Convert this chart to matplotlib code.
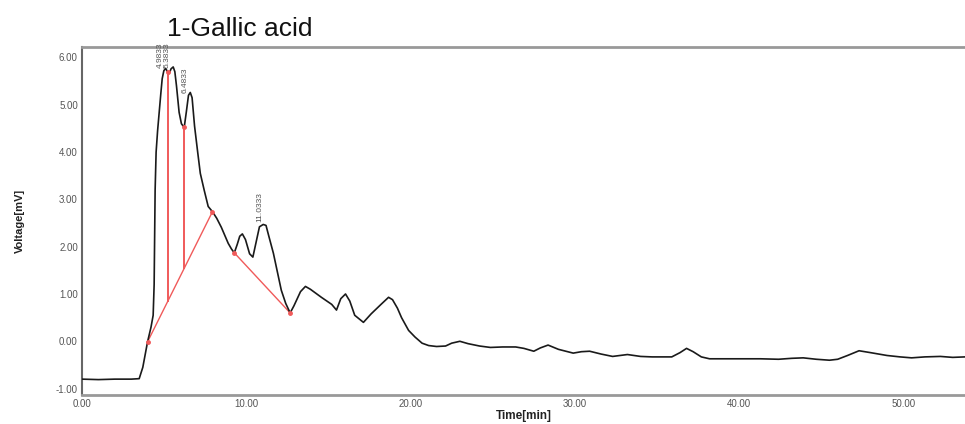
import numpy as np
import matplotlib
matplotlib.use("Agg")
import matplotlib.pyplot as plt

plt.rcParams['font.family'] = ['Liberation Sans', 'DejaVu Sans']

# chromatogram trace
time_min = [0.0, 1.0, 2.0, 3.0, 3.48, 3.7, 3.99, 4.2, 4.33, 4.39, 4.45, 4.51, 4.6, 4.7,
            4.8, 4.88, 4.98, 5.09, 5.2, 5.3, 5.42, 5.55, 5.65, 5.75, 5.91, 6.05, 6.22,
            6.35, 6.48, 6.59, 6.7, 6.85, 7.04, 7.2, 7.44, 7.68, 7.94, 8.2, 8.48, 8.9,
            9.1, 9.27, 9.45, 9.6, 9.76, 9.95, 10.2, 10.4, 10.6, 10.8, 11.03, 11.2,
            11.35, 11.65, 12.13, 12.4, 12.67, 12.9, 13.3, 13.6, 13.9, 14.57, 15.2,
            15.49, 15.75, 16.04, 16.3, 16.6, 17.13, 17.6, 18.2, 18.66, 18.9, 19.2,
            19.45, 19.88, 20.27, 20.7, 21.1, 21.58, 22.13, 22.5, 23.0, 23.5, 24.2,
            24.86, 25.6, 26.4, 26.9, 27.5, 27.9, 28.37, 29.0, 29.9, 30.4, 30.9, 31.6,
            32.3, 33.2, 34.0, 34.7, 35.9, 36.4, 36.8, 37.2, 37.7, 38.2, 39.0, 40.0,
            41.3, 42.4, 43.2, 43.9, 44.7, 45.5, 46.0, 46.6, 47.3, 48.0, 49.0, 49.8,
            50.5, 51.3, 52.25, 53.0, 53.75]
voltage_mv = [-0.80, -0.81, -0.80, -0.80, -0.79, -0.55, -0.01, 0.30, 0.55, 1.2, 3.2, 4.0,
              4.45, 4.85, 5.25, 5.55, 5.72, 5.77, 5.70, 5.66, 5.76, 5.80, 5.70, 5.40,
              4.84, 4.60, 4.52, 4.85, 5.20, 5.26, 5.15, 4.55, 4.00, 3.55, 3.19, 2.85,
              2.74, 2.60, 2.41, 2.07, 1.95, 1.87, 2.05, 2.22, 2.27, 2.15, 1.85, 1.78,
              2.10, 2.42, 2.47, 2.45, 2.25, 1.86, 1.08, 0.80, 0.60, 0.75, 1.05, 1.16,
              1.10, 0.93, 0.78, 0.66, 0.90, 1.00, 0.85, 0.55, 0.40, 0.58, 0.78, 0.93,
              0.88, 0.70, 0.50, 0.23, 0.09, -0.04, -0.09, -0.11, -0.10, -0.04, 0.00,
              -0.05, -0.10, -0.13, -0.12, -0.12, -0.15, -0.21, -0.14, -0.08, -0.17,
              -0.25, -0.22, -0.21, -0.27, -0.32, -0.28, -0.32, -0.33, -0.33, -0.24,
              -0.15, -0.22, -0.33, -0.37, -0.37, -0.37, -0.37, -0.38, -0.36, -0.35,
              -0.38, -0.40, -0.38, -0.30, -0.20, -0.24, -0.30, -0.33, -0.35, -0.33,
              -0.32, -0.34, -0.33]

# integration baselines (start/end time, voltage)
base_t = [[3.99, 7.94], [9.27, 12.67]]
base_v = [[-0.01, 2.74], [1.87, 0.60]]
# drop lines between the first three peaks
drop_t = [5.22, 6.22]

# retention time labels
peak_labels = ["4.9833", "5.3833", "6.4833", "11.0333"]
peak_times = [4.9833, 5.3833, 6.4833, 11.0333]

fig = plt.figure(figsize=(9.65, 4.24), dpi=100)
ax = fig.add_axes([0.085, 0.069, 0.915, 0.82])

ax.plot(time_min, voltage_mv, color='#1a1a1a', lw=1.2, zorder=3)

red = '#f05a5a'
for bt, bv in zip(base_t, base_v):
    ax.plot(bt, bv, color=red, lw=1.0, zorder=2)
    ax.plot(bt, bv, 'o', color=red, ms=2.5, zorder=4)

b0t, b0v = base_t[0], base_v[0]
for t in drop_t:
    bottom = np.interp(t, b0t, b0v)
    top = np.interp(t, time_min, voltage_mv)
    ax.plot([t, t], [bottom, top], color=red, lw=1.4, zorder=2)
    ax.plot([t], [top], 'o', color=red, ms=2.5, zorder=4)

for lab, t in zip(peak_labels, peak_times):
    v = np.interp(t, time_min, voltage_mv)
    ax.text(t, v + 0.05, lab, rotation=90, ha='right', va='bottom',
            fontsize=6, color='#555555', zorder=5)

ax.set_xlim(0, 53.75)
ax.set_ylim(-1.13, 6.22)
ax.set_xticks([0, 10, 20, 30, 40, 50])
ax.set_xticklabels(["0.00", "10.00", "20.00", "30.00", "40.00", "50.00"])
ax.set_yticks([-1, 0, 1, 2, 3, 4, 5, 6])
ax.set_yticklabels(["-1.00", "0.00", "1.00", "2.00", "3.00", "4.00", "5.00", "6.00"])
ax.tick_params(length=0, labelsize=7, labelcolor='#555555', pad=3)

for side in ['top', 'bottom']:
    ax.spines[side].set_color('#999999')
    ax.spines[side].set_linewidth(2)
ax.spines['left'].set_color('#666666')
ax.spines['left'].set_linewidth(1.5)
ax.spines['right'].set_visible(False)

ax.set_xlabel("Time[min]", fontsize=8.5, fontweight='bold', color='#222222', labelpad=1)
ax.set_ylabel("Voltage[mV]", fontsize=8, fontweight='bold', color='#222222', labelpad=22)

fig.text(167 / 965, 1 - 36 / 424, "1-Gallic acid", fontsize=19, color='#111111',
         ha='left', va='baseline')

fig.savefig("out.png", dpi=100)
